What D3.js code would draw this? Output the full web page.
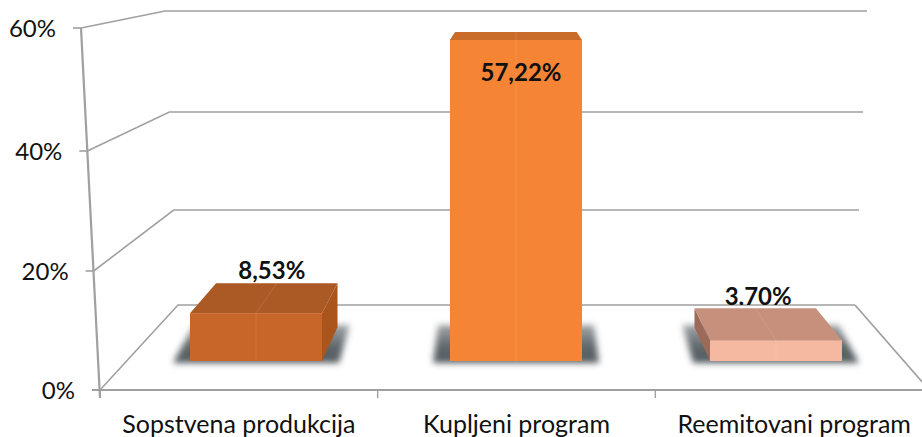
<!DOCTYPE html>
<html><head><meta charset="utf-8">
<script src="https://cdn.jsdelivr.net/npm/d3@7"></script>
<style>html,body{margin:0;padding:0;background:#fff;overflow:hidden}svg{display:block}text{font-family:Lato,"Open Sans",sans-serif;fill:#111}</style>
</head><body><svg id="c" width="922" height="437"></svg>
<script>
const categories = ["Sopstvena produkcija","Kupljeni program","Reemitovani program"];
const values = [8.53,57.22,3.70];
const valueLabels = ["8,53%","57,22%","3,70%"];
const yTicks = [0,20,40,60];
const frontColors = ["#c8662a","#f58535","#f4b9a0"];
const topColors = ["#ab5a25","#c96c2c","#c6907c"];
const sideColors = ["#a9551f","#b96228","#9c6a58"];

const W=922,H=437, grid="#a0a0a0";
const svg=d3.select("#c");
const defs=svg.append("defs");
defs.append("filter").attr("id","soft").append("feGaussianBlur").attr("stdDeviation",0.45);
const sf=defs.append("filter").attr("id","shadow").attr("x","-20%").attr("y","-40%").attr("width","140%").attr("height","180%");
sf.append("feGaussianBlur").attr("stdDeviation",3);
const lg=defs.append("linearGradient").attr("id","shadeGrad").attr("x1",0).attr("y1",0).attr("x2",0).attr("y2",1);
lg.append("stop").attr("offset",0).attr("stop-color","#565d62").attr("stop-opacity",.55);
lg.append("stop").attr("offset",.6).attr("stop-color","#565d62").attr("stop-opacity",.95);
lg.append("stop").attr("offset",1).attr("stop-color","#565d62").attr("stop-opacity",1);
defs.append("clipPath").attr("id","wallclip").append("rect").attr("x",0).attr("y",0).attr("width",W).attr("height",305);

// wall / floor projection
const yFront=d3.scaleLinear().domain([0,20,40,60]).range([390,271,151,28]);
const xFront=d3.scaleLinear().domain([0,60]).range([100,81]);
const yBack=d3.scaleLinear().domain([0,20,40,60]).range([305,210,112,11]);
const xBack=d3.scaleLinear().domain([0,60]).range([178,165]);
const xRight=d3.scaleLinear().domain([0,60]).range([855,867]);
// category axis and bar placement
const xCat=d3.scaleBand().domain(categories).range([100,933]);
const xBar=d3.scaleBand().domain(categories).range([126,906]).paddingInner(0.4923).paddingOuter(0.2462);
const yBar=d3.scaleLinear().domain([0,60]).range([361,24.4]);
// depth: back = front + k*(V-front)
const K=0.08, VX=516, VY=-60;
const back=([x,y])=>[x+K*(VX-x),y+K*(VY-y)];
const poly=pts=>pts.map(p=>p.join(",")).join(" ");

const walls=svg.append("g").attr("filter","url(#soft)");
const line=(a,b,w)=>walls.append("line").attr("x1",a[0]).attr("y1",a[1]).attr("x2",b[0]).attr("y2",b[1]).attr("stroke",grid).attr("stroke-width",w);

yTicks.forEach(t=>{
  walls.append("polyline").attr("fill","none").attr("stroke",grid).attr("stroke-width",1.6)
    .attr("points",poly([[xFront(t),yFront(t)],[xBack(t),yBack(t)],[xRight(t),yBack(t)]]));
  line([xFront(t)-8,yFront(t)],[xFront(t),yFront(t)],1.6);
});
line([xRight(0),yBack(0)],[W+2,384],1.8);
line([xFront(60),yFront(60)],[xFront(0),yFront(0)+8],2.2);
line([92,yFront(0)],[W,yFront(0)],2);
categories.forEach(c=>line([xCat(c),yFront(0)],[xCat(c),yFront(0)+8],1.4));

svg.append("g").selectAll("text").data(yTicks).join("text")
  .attr("x",t=>xFront(t)-25).attr("y",t=>yFront(t)+9).attr("text-anchor","end")
  .attr("font-size",24).text(t=>t+"%");

svg.append("g").selectAll("text").data(categories).join("text")
  .attr("x",c=>xCat(c)+xCat.bandwidth()/2).attr("y",433).attr("text-anchor","middle")
  .attr("font-size",25).text(c=>c);

const bars=svg.append("g").selectAll("g").data(categories).join("g");
// shadows: floor footprint, widened
bars.append("polygon").attr("filter","url(#shadow)").attr("fill","url(#shadeGrad)")
  .attr("points",c=>{
    const x0=xBar(c)-17,x1=xBar(c)+xBar.bandwidth()+17,y=yBar(0)+2,yb=yBar(0)-36;
    const shift=x=>x+0.06*(VX-x);
    return poly([[x0,y],[x1,y],[shift(x1),yb],[shift(x0),yb]]);
  });

bars.each(function(c,i){
  const s=d3.select(this).append("g").attr("filter","url(#soft)");
  const x0=xBar(c),x1=x0+xBar.bandwidth(),yT=yBar(values[i]),yB=yBar(0);
  const tl=[x0,yT],tr=[x1,yT],bl=[x0,yB],br=[x1,yB];
  const btl=back(tl),btr=back(tr),bbl=back(bl),bbr=back(br);
  s.append("polygon").attr("fill",sideColors[i]).attr("points",poly(x0<VX&&x1<VX?[tr,btr,bbr,br]:[tl,btl,bbl,bl]));
  s.append("polygon").attr("fill",topColors[i]).attr("points",poly([tl,btl,btr,tr]));
  s.append("rect").attr("x",x0).attr("y",yT).attr("width",x1-x0).attr("height",yB-yT).attr("fill",frontColors[i]);
  const mx=(x0+x1)/2;
  s.append("line").attr("x1",mx).attr("x2",mx).attr("y1",yT).attr("y2",yB).attr("stroke","#fff").attr("stroke-opacity",.07).attr("stroke-width",1.6);
  s.append("line").attr("x1",mx).attr("x2",back([mx,yT])[0]).attr("y1",yT).attr("y2",back([mx,yT])[1]).attr("stroke","#fff").attr("stroke-opacity",.08).attr("stroke-width",1.4);
});

// value labels
const labelY=i=>{const t=back([0,yBar(values[i])])[1];return t-4<40?yBar(values[i])+41:(i===2?t-3:t-4);};
const labelX=i=>{const c=categories[i],m=xBar(c)+xBar.bandwidth()/2;return back([m,0])[0]+(i===1?5:i===0?-5:3);};
svg.append("g").selectAll("text").data(valueLabels).join("text")
  .attr("x",(d,i)=>labelX(i)).attr("y",(d,i)=>labelY(i)).attr("text-anchor","middle")
  .attr("font-size",24).attr("font-weight",700).attr("clip-path",(d,i)=>i===2?"url(#wallclip)":null).text(d=>d);
</script></body></html>
